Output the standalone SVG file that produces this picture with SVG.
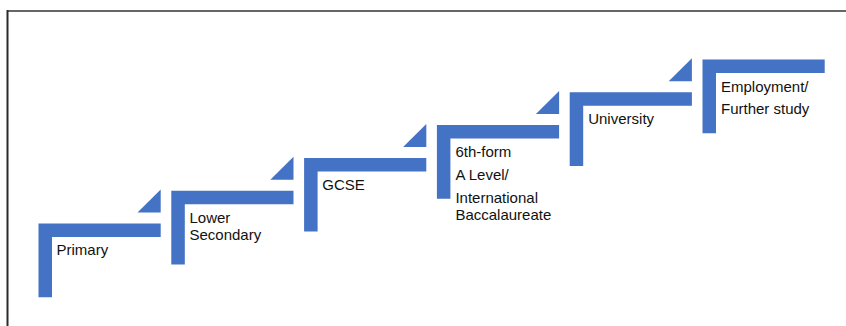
<svg xmlns="http://www.w3.org/2000/svg" xmlns:xlink="http://www.w3.org/1999/xlink" width="846" height="326" viewBox="0 0 846 326">
  <style>
    .step { fill: #4472C4; }
    .lbl { font-family: "Liberation Sans", Arial, sans-serif; font-size: 15px; fill: #111111; }
  </style>
  <defs>
    <path id="stair" d="M0,0 H122.2 V13.5 H13.5 V73.7 H0 Z"/>
    <path id="tri" d="M99,-11 L122.2,-34 L122.2,-11 Z"/>
  </defs>
  <rect x="0" y="0" width="846" height="326" fill="#ffffff"/>
  <g id="frame">
    <line x1="7.5" y1="11" x2="846" y2="11" stroke="#666666" stroke-width="2"/>
    <line x1="7.5" y1="10" x2="7.5" y2="326" stroke="#2a2a2a" stroke-width="2"/>
  </g>
  <g id="connectors"></g>
  <g id="primary" transform="translate(38.5,223.5)">
    <use xlink:href="#stair" class="step"/>
    <use xlink:href="#tri" class="step"/>
    <text class="lbl" x="18" y="31.5">Primary</text>
  </g>
  <g id="lower-secondary" transform="translate(171.3,190.7)">
    <use xlink:href="#stair" class="step"/>
    <use xlink:href="#tri" class="step"/>
    <text class="lbl" x="18.2" y="32">Lower</text>
    <text class="lbl" x="18.2" y="49.5">Secondary</text>
  </g>
  <g id="gcse" transform="translate(304.1,157.9)">
    <use xlink:href="#stair" class="step"/>
    <use xlink:href="#tri" class="step"/>
    <text class="lbl" x="18.2" y="32">GCSE</text>
  </g>
  <g id="sixth-form" transform="translate(436.9,125.1)">
    <use xlink:href="#stair" class="step"/>
    <use xlink:href="#tri" class="step"/>
    <text class="lbl" x="18.5" y="31.9">6th-form</text>
    <text class="lbl" x="18.5" y="54.9">A Level/</text>
    <text class="lbl" x="18.5" y="77.9">International</text>
    <text class="lbl" x="18.5" y="94.9">Baccalaureate</text>
  </g>
  <g id="university" transform="translate(569.7,92.3)">
    <use xlink:href="#stair" class="step"/>
    <use xlink:href="#tri" class="step"/>
    <text class="lbl" x="18.5" y="31.7">University</text>
  </g>
  <g id="employment" transform="translate(702.5,59.5)">
    <use xlink:href="#stair" class="step"/>
    <text class="lbl" x="18.5" y="32">Employment/</text>
    <text class="lbl" x="18.5" y="54">Further study</text>
  </g>
</svg>
